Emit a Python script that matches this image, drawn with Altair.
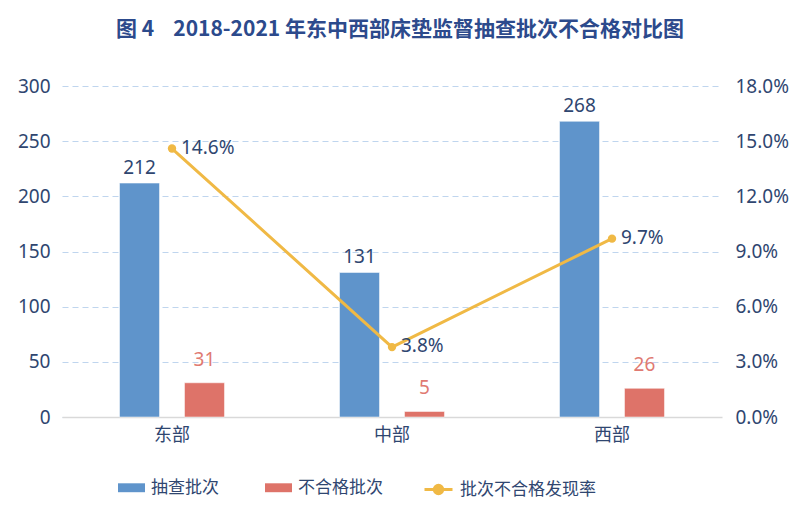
import altair as alt
import pandas as pd

regions = ["东部", "中部", "西部"]
sampled = [212, 131, 268]
failed = [31, 5, 26]
rate = [0.146, 0.038, 0.097]
series_names = ["抽查批次", "不合格批次", "批次不合格发现率"]
title_text = "图 4\u00a0\u00a0\u00a0\u00a02018-2021 年东中西部床垫监督抽查批次不合格对比图"

bar_colors = ["#5F94CB", "#DE7369"]
line_color = "#F0B945"
text_color = "#2F4670"
red_text = "#E07A72"
font = "Noto Sans CJK SC"
num_font = "Noto Sans"

bars_df = pd.DataFrame({
    "region": regions * 2,
    "series": [series_names[0]] * 3 + [series_names[1]] * 3,
    "value": sampled + failed,
})
line_df = pd.DataFrame({
    "region": regions,
    "series": [series_names[2]] * 3,
    "rate": rate,
})

x_axis = alt.Axis(labelAngle=0, labelFontSize=18, labelColor=text_color,
                  labelFont=font, ticks=False, domainColor="#D9D9D9",
                  domainWidth=1.5, labelPadding=9, grid=False)
x_enc = alt.X("region:N", sort=regions, title=None,
              scale=alt.Scale(paddingInner=0, paddingOuter=0), axis=x_axis)
xoff = alt.XOffset("series:N", sort=series_names[:2],
                   scale=alt.Scale(domain=series_names[:2], paddingInner=0.3846, paddingOuter=0.885))

y_left = alt.Y("value:Q", title=None,
               scale=alt.Scale(domain=[0, 300], nice=False),
               axis=alt.Axis(values=[0, 50, 100, 150, 200, 250, 300], labelFontSize=19,
                             labelColor=text_color, labelFont=num_font, domain=False, ticks=False,
                             labelPadding=12, grid=True, gridColor="#BFD5EE",
                             gridDash=[6, 4], gridWidth=1.2, orient="left"))

bars = alt.Chart(bars_df).mark_bar(stroke="#FFFFFF", strokeOpacity=0.5, strokeWidth=1).encode(
    x=x_enc,
    xOffset=xoff,
    y=y_left,
    color=alt.Color("series:N", sort=series_names[:2],
                    scale=alt.Scale(domain=series_names[:2], range=bar_colors),
                    legend=alt.Legend(title=None, orient="none", direction="horizontal",
                                      legendX=56, legendY=388,
                                      symbolType="M-1,-0.33H1V0.33H-1Z", symbolSize=729,
                                      symbolStrokeWidth=0, labelFontSize=17, labelFont=font,
                                      labelColor=text_color, columnPadding=46, labelOffset=6)),
)

blue_labels = alt.Chart(bars_df).transform_filter(
    alt.datum.series == series_names[0]
).mark_text(dy=-15, fontSize=19, font=num_font, color=text_color).encode(
    x=alt.X("region:N", sort=regions, axis=x_axis),
    xOffset=xoff,
    y=alt.Y("value:Q"),
    text="value:Q",
)
red_labels = alt.Chart(bars_df).transform_filter(
    alt.datum.series == series_names[1]
).mark_text(dy=-23, fontSize=19, font=num_font, color=red_text).encode(
    x=alt.X("region:N", sort=regions, axis=x_axis),
    xOffset=xoff,
    y=alt.Y("value:Q"),
    text="value:Q",
)

left = alt.layer(bars, blue_labels, red_labels)

y_right = alt.Y("rate:Q", title=None,
                scale=alt.Scale(domain=[0, 0.18], nice=False),
                axis=alt.Axis(values=[0, 0.03, 0.06, 0.09, 0.12, 0.15, 0.18], format=".1%",
                              labelFontSize=19, labelColor=text_color, labelFont=num_font,
                              domain=False, ticks=False, labelPadding=13, grid=False,
                              orient="right"))

line = alt.Chart(line_df).mark_line(color=line_color, strokeWidth=3).encode(
    x=alt.X("region:N", sort=regions, axis=x_axis),
    y=y_right,
)
pts = alt.Chart(line_df).mark_point(filled=True, size=70, opacity=1).encode(
    x=alt.X("region:N", sort=regions, axis=x_axis),
    y=alt.Y("rate:Q"),
    color=alt.Color("series:N",
                    scale=alt.Scale(domain=[series_names[2]], range=[line_color]),
                    legend=alt.Legend(title=None, orient="none", direction="horizontal",
                                      legendX=361, legendY=388,
                                      symbolType="M-1,0H1M-0.3,0A0.3,0.3 0 1,0 0.3,0A0.3,0.3 0 1,0 -0.3,0Z",
                                      symbolSize=784, symbolStrokeWidth=3,
                                      symbolStrokeColor=line_color, symbolFillColor=line_color,
                                      labelFontSize=17, labelFont=font,
                                      labelColor=text_color, labelOffset=6)),
)
rate_labels = alt.Chart(line_df).mark_text(align="left", dx=9, dy=-1, fontSize=19, font=num_font,
                                           color=text_color).encode(
    x=alt.X("region:N", sort=regions, axis=x_axis),
    y=alt.Y("rate:Q"),
    text=alt.Text("rate:Q", format=".1%"),
)

right = alt.layer(line, pts, rate_labels)

chart = alt.layer(left, right).resolve_scale(
    y="independent", color="independent"
).resolve_legend(color="independent").properties(
    width=660, height=331,
    background="white",
    title=alt.TitleParams(title_text,
                          fontSize=21, font=font, fontWeight="bold", color="#2C4A8C",
                          anchor="middle", offset=37, dx=8),
    padding={"left": 54, "top": 78, "right": 70, "bottom": 84},
    autosize=alt.AutoSizeParams(type="none"),
).configure_view(strokeWidth=0, stroke="transparent").configure_axisY(
    domain=False, ticks=False
)

chart.save("out.html", embed_options={"renderer": "svg", "actions": False})
